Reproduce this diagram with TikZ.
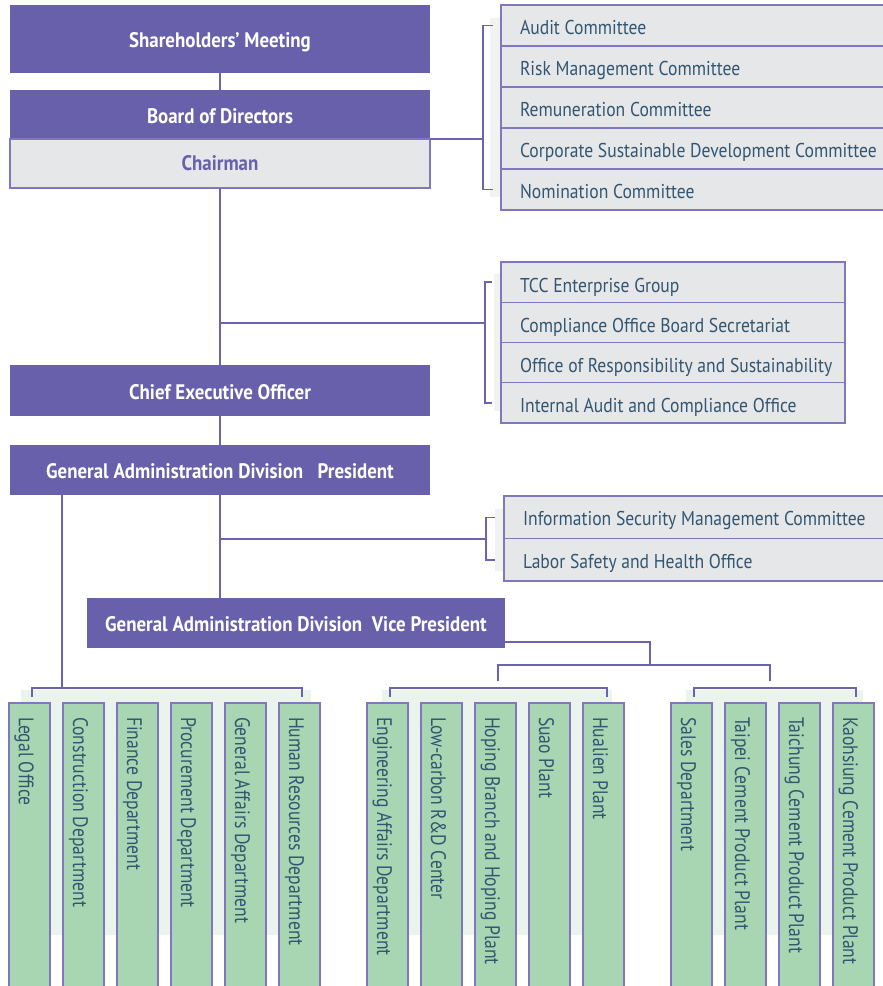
\documentclass[tikz,border=0pt]{standalone}
\usepackage{fontspec}
\setmainfont{PT Sans}
\newfontfamily\cfa{PT Sans}[FakeStretch=0.88]
\newfontfamily\cfb{PT Sans}[FakeStretch=0.9]
\newfontfamily\cfg{PT Sans}[FakeStretch=0.84]
\definecolor{purp}{RGB}{104,96,170}
\definecolor{linec}{RGB}{108,99,174}
\definecolor{bord}{RGB}{128,119,190}
\definecolor{grayf}{RGB}{230,231,232}
\definecolor{stripc}{RGB}{241,242,242}
\definecolor{greenf}{RGB}{168,214,178}
\definecolor{greenbg}{RGB}{234,244,236}
\definecolor{darkt}{RGB}{50,86,114}
\begin{document}
\begin{tikzpicture}[x=1pt,y=-1pt,
  pbox/.style={fill=purp, text=white, font=\cfb\bfseries\fontsize{21}{24}\selectfont, text height=17pt, text depth=0pt, inner sep=0pt, outer sep=0pt, minimum width=420pt, anchor=north west},
  chbox/.style={fill=grayf, draw=bord, line width=1.3pt, text=purp, font=\cfb\bfseries\fontsize{21}{24}\selectfont, text height=13pt, text depth=0pt, inner sep=0pt, outer sep=0pt, minimum width=420pt, anchor=north west},
  gbox/.style={fill=grayf, draw=bord, line width=1.3pt, text=darkt, font=\cfa\fontsize{20}{24}\selectfont, text height=20pt, text depth=0pt, inner xsep=19pt, inner ysep=0pt, outer sep=0pt, anchor=north west},
  grn/.style={fill=greenf, draw=bord, line width=1.3pt, text=darkt, font=\cfg\fontsize{21}{24}\selectfont, text height=21pt, text depth=0pt, rotate=-90, anchor=west, inner xsep=14pt, inner ysep=0pt, minimum height=41pt, outer sep=0pt},
  conn/.style={draw=linec, line width=1.5pt}]
\useasboundingbox (0,0) rectangle (883,986);
\clip (0,0) rectangle (883,986);
% light strips and backgrounds
\fill[stripc] (490,18) rectangle (501,197);
\fill[stripc] (494,274) rectangle (502,411);
\fill[stripc] (495,509) rectangle (504,571);
\fill[greenbg] (21,690) rectangle (311,935);
\fill[greenbg] (382,690) rectangle (612,935);
\fill[greenbg] (686,690) rectangle (863,935);
% main chain
\node[pbox, minimum height=68pt] (sh) at (10,5) {Shareholders’ Meeting};
\node[pbox, minimum height=49pt] (bod) at (10,90) {Board of Directors};
\node[chbox, minimum height=49pt] (ch) at (10,139) {Chairman};
\node[pbox, minimum height=51pt] (ceo) at (10,365) {Chief Executive Officer};
\node[pbox, minimum height=50pt] (gp) at (10,445) {General Administration Division\ \ \ President};
\node[pbox, minimum height=50pt, minimum width=418pt] (vp) at (87,598) {General Administration Division\ \ Vice President};
% committees
\node[gbox, text height=18.5pt, minimum height=41pt] (c1) at (501,5) {\makebox[360pt][l]{Audit Committee}};
\node[gbox, text height=18.5pt, minimum height=41pt] (c2) at (501,46) {\makebox[360pt][l]{Risk Management Committee}};
\node[gbox, text height=18.5pt, minimum height=41pt] (c3) at (501,87) {\makebox[360pt][l]{Remuneration Committee}};
\node[gbox, text height=18.5pt, minimum height=41pt] (c4) at (501,128) {\makebox[360pt][l]{Corporate Sustainable Development Committee}};
\node[gbox, text height=18.5pt, minimum height=41pt] (c5) at (501,169) {\makebox[360pt][l]{Nomination Committee}};
% CEO offices
\node[gbox, minimum height=40.25pt] (t1) at (501,262) {\makebox[306pt][l]{TCC Enterprise Group}};
\node[gbox, minimum height=40.25pt] (t2) at (501,302.25) {\makebox[306pt][l]{Compliance Office Board Secretariat}};
\node[gbox, minimum height=40.25pt] (t3) at (501,342.5) {\makebox[306pt][l]{Office of Responsibility and Sustainability}};
\node[gbox, minimum height=40.25pt] (t4) at (501,382.75) {\makebox[306pt][l]{Internal Audit and Compliance Office}};
% president offices
\node[gbox, text height=17pt, minimum height=42.5pt] (i1) at (504,496) {\makebox[349pt][l]{Information Security Management Committee}};
\node[gbox, text height=17pt, minimum height=42.5pt] (i2) at (504,538.5) {\makebox[349pt][l]{Labor Safety and Health Office}};
% departments
\node[grn] (g1) at (29.5,703) {\makebox[300pt][l]{Legal Office}};
\node[grn] (g2) at (83.5,703) {\makebox[300pt][l]{Construction Department}};
\node[grn] (g3) at (137.5,703) {\makebox[300pt][l]{Finance Department}};
\node[grn] (g4) at (191.5,703) {\makebox[300pt][l]{Procurement Department}};
\node[grn] (g5) at (245.5,703) {\makebox[300pt][l]{General Affairs Department}};
\node[grn] (g6) at (299.5,703) {\makebox[300pt][l]{Human Resources Department}};
\node[grn] (g7) at (387.5,703) {\makebox[300pt][l]{Engineering Affairs Department}};
\node[grn] (g8) at (441.5,703) {\makebox[300pt][l]{Low-carbon R\&D Center}};
\node[grn] (g9) at (495.5,703) {\makebox[300pt][l]{Hoping Branch and Hoping Plant}};
\node[grn] (g10) at (549.5,703) {\makebox[300pt][l]{Suao Plant}};
\node[grn] (g11) at (603.5,703) {\makebox[300pt][l]{Hualien Plant}};
\node[grn] (g12) at (691.5,703) {\makebox[300pt][l]{Sales Department}};
\node[grn] (g13) at (745.5,703) {\makebox[300pt][l]{Taipei Cement Product Plant}};
\node[grn] (g14) at (799.5,703) {\makebox[300pt][l]{Taichung Cement Product Plant}};
\node[grn] (g15) at (853.5,703) {\makebox[300pt][l]{Kaohsiung Cement Product Plant}};
% connectors
\draw[conn] (sh.south) -- (bod.north);
\draw[conn] (ch.south) -- (ceo.north);
\draw[conn] (ceo.south) -- (gp.north);
\draw[conn] (gp.south) -- (gp.south |- vp.north);
\coordinate (cb) at (483,139);
\draw[conn] (bod.south east) -- (cb);
\draw[conn] ([xshift=-8pt]c1.west) -| (cb) |- ([xshift=-8pt]c5.west);
\coordinate (tb) at (485,323);
\draw[conn] (tb -| ch.south) -- (tb);
\draw[conn] ([xshift=-9pt]t1.west) -| (tb) |- ([xshift=-9pt]t4.west);
\coordinate (ib) at (486,539);
\draw[conn] (ib -| gp.south) -- (ib);
\draw[conn] ([xshift=-9pt]i1.west) -| (ib) |- ([xshift=-9pt]i2.west);
\coordinate (b1) at (62,688);
\draw[conn] (gp.south -| b1) -- (b1);
\draw[conn] (32,697) |- (b1) -| (302,697);
\coordinate (vj) at (650,665);
\coordinate (d2) at (498,681);
\coordinate (d3) at (770,681);
\draw[conn] ([yshift=-19pt]vp.east) -| (vj);
\draw[conn] (d2) |- (vj) -| (d3);
\draw[conn] (390,697) |- (498,688) -| (607,697);
\draw[conn] (694,697) |- (770,688) -| (856,697);
\end{tikzpicture}
\end{document}
